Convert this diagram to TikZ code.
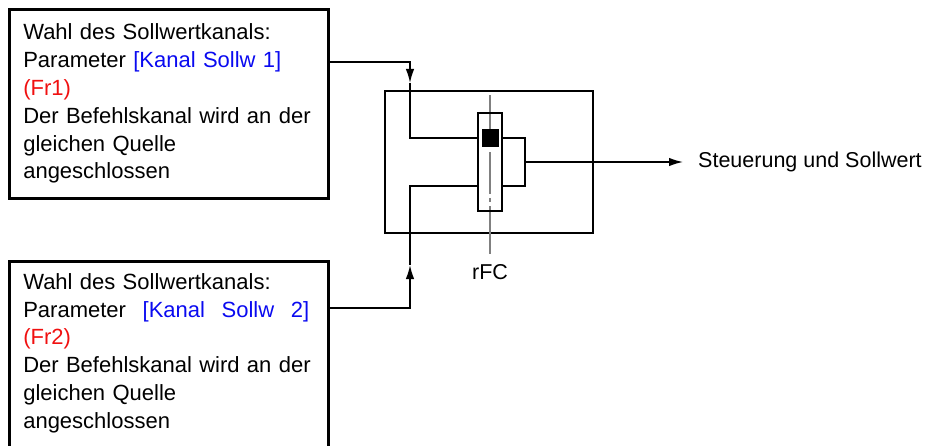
\documentclass[tikz,border=0pt]{standalone}
\usepackage{fontspec}
\setmainfont{Liberation Sans}
\usepackage{xcolor}
\usetikzlibrary{arrows.meta, positioning, calc}
\definecolor{parblue}{HTML}{0A0AF0}
\definecolor{codered}{HTML}{F01010}
\definecolor{axisgray}{HTML}{808080}

\begin{document}
\begin{tikzpicture}[
  x=1pt, y=-1pt,
  srcbox/.style={rectangle, draw, line width=2.6pt, text width=291pt,
                 inner xsep=14pt, inner ysep=12pt, align=left,
                 font=\fontsize{22}{27.8}\selectfont},
  ctrlbox/.style={rectangle, draw, line width=2.6pt, minimum width=208pt,
                  minimum height=142pt},
  slider/.style={rectangle, draw, line width=1.6pt, minimum width=24pt,
                 minimum height=98pt, inner sep=0pt},
  knob/.style={rectangle, fill=black, minimum width=17pt, minimum height=18pt,
               inner sep=0pt},
  wire/.style={line width=1.6pt},
  arrowtip/.style={-{Latex[length=14pt, width=8.5pt]}},
  axis/.style={draw=axisgray, line width=1.1pt},
  lbl/.style={inner sep=0pt, font=\fontsize{21.5}{26}\selectfont}
]
  \useasboundingbox (0,0) rectangle (936,446);

  % source boxes
  \node[srcbox, minimum height=189pt, anchor=north west] (src1) at (8,8)
    {Wahl des Sollwertkanals:\\
     Parameter \textcolor{parblue}{[Kanal Sollw 1]}\\
     \textcolor{codered}{(Fr1)}\\
     Der Befehlskanal wird an der\\
     gleichen Quelle\\
     angeschlossen};
  \node[srcbox, text depth=165pt, anchor=north west] (src2) at (8,260)
    {Wahl des Sollwertkanals:\\
     \makebox[286pt][s]{Parameter\hfill\ \textcolor{parblue}{[Kanal\hfill\ Sollw\hfill\ 2]}}\\
     \textcolor{codered}{(Fr2)}\\
     Der Befehlskanal wird an der\\
     gleichen Quelle\\
     angeschlossen};

  % switch block
  \node[ctrlbox] (ctrl) at (489,162) {};
  \node[slider] (rfc) at (490,162) {};
  \draw[axis, dash pattern=on 51pt off 6pt on 42pt off 4pt on 4pt off 4pt on 80pt]
    ($(rfc.north)+(0,-17)$) -- ($(rfc.south)+(0,42)$);
  \node[slider] at (rfc) {};
  \node[knob] (knb) at (490.5,138) {};
  \node[lbl, below=52pt of rfc.south] (rfclbl) {rFC};

  \coordinate (p1) at ($(rfc.west)+(0,-24)$);
  \coordinate (p2) at ($(rfc.west)+(0,24)$);
  \coordinate (q1) at ($(rfc.east)+(0,-24)$);
  \coordinate (q2) at ($(rfc.east)+(0,24)$);
  \coordinate (j1) at (410,62);
  \coordinate (tip1) at (410,83);
  \coordinate (j2) at (410,308);
  \coordinate (tip2) at (410,265);
  \coordinate (fb) at (525,162);

  \node[lbl, inner xsep=15pt, anchor=west] (out) at (683,162) {Steuerung und Sollwert};

  % connectors
  \draw[wire, arrowtip] (src1.east |- j1) -- (j1) -- (tip1);
  \draw[wire] (tip1) |- (p1);
  \draw[wire, arrowtip] (src2.east |- j2) -- (j2) -- (tip2);
  \draw[wire] (tip2) |- (p2);
  \draw[wire] (q1) -| (fb) |- (q2);
  \draw[wire, arrowtip] (fb) -- (out);
\end{tikzpicture}
\end{document}
